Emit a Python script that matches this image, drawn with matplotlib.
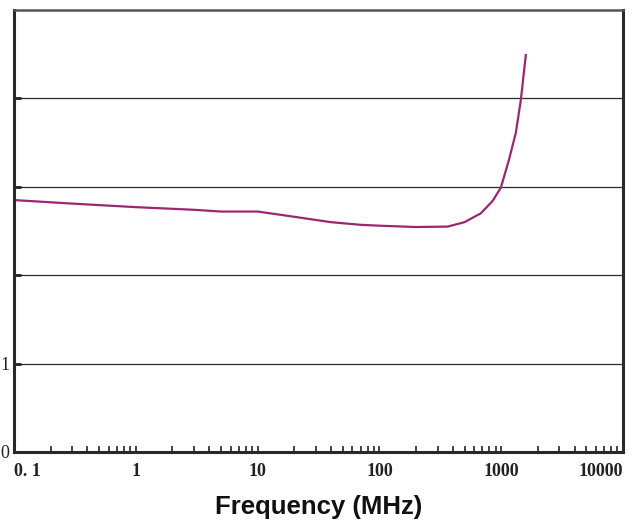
import numpy as np
import matplotlib.pyplot as plt
from matplotlib.ticker import FixedLocator, LogLocator, NullFormatter

# curve (frequency in MHz, value)
freq = [0.1, 0.3, 1, 3, 5, 10, 18, 40, 70, 100, 200, 364, 500,
        680, 850, 993, 1155, 1318, 1449, 1534, 1593]
vals = [2.85, 2.81, 2.77, 2.74, 2.72, 2.72, 2.67, 2.60, 2.57, 2.56,
        2.545, 2.55, 2.60, 2.70, 2.84, 2.99, 3.30, 3.61, 3.98, 4.29, 4.49]

xticks = [0.1, 1, 10, 100, 1000, 10000]
xlabels = ['0. 1', '1', '10', '100', '1000', '10000']
yticks = [0, 1, 2, 3, 4]
ylabels = ['0', '1', '', '', '']

fig = plt.figure(figsize=(6.37, 5.24), dpi=100)
ax = fig.add_axes([14/637, 1-452/524, 609/637, 442/524])

ax.plot(freq, vals, color='#9c2770', lw=1.6)

ax.set_xscale('log')
ax.set_xlim(0.1, 10000)
ax.set_ylim(0, 5)

ax.xaxis.set_major_locator(FixedLocator(xticks))
ax.xaxis.set_minor_locator(LogLocator(base=10, subs=np.arange(2, 10)))
ax.xaxis.set_minor_formatter(NullFormatter())
ax.set_xticklabels(xlabels, family='Liberation Serif', fontweight='bold', fontsize=13)
ax.set_yticks(yticks)
ax.set_yticklabels(ylabels, family='Liberation Serif', fontsize=13)
labs = ax.get_xticklabels()
labs[0].set_ha('left')
labs[-1].set_ha('right')

ax.tick_params(axis='x', which='both', direction='in', length=4, width=1.2,
               pad=8, colors='#222222')
ax.tick_params(axis='y', direction='in', length=5, width=2, pad=3.5,
               colors='#222222')

for y in [1, 2, 3, 4]:
    ax.axhline(y, color='#2a2a2a', lw=0.9, zorder=0)

for s in ax.spines.values():
    s.set_color('#262a2c')
    s.set_linewidth(2.2)
ax.spines['top'].set_linewidth(1.8)
ax.spines['top'].set_color('#555555')

ax.set_xlabel('Frequency (MHz)', fontsize=18.5, fontweight='bold',
              family='Liberation Sans', color='#111111', labelpad=11)

fig.savefig('out.png', dpi=100)
